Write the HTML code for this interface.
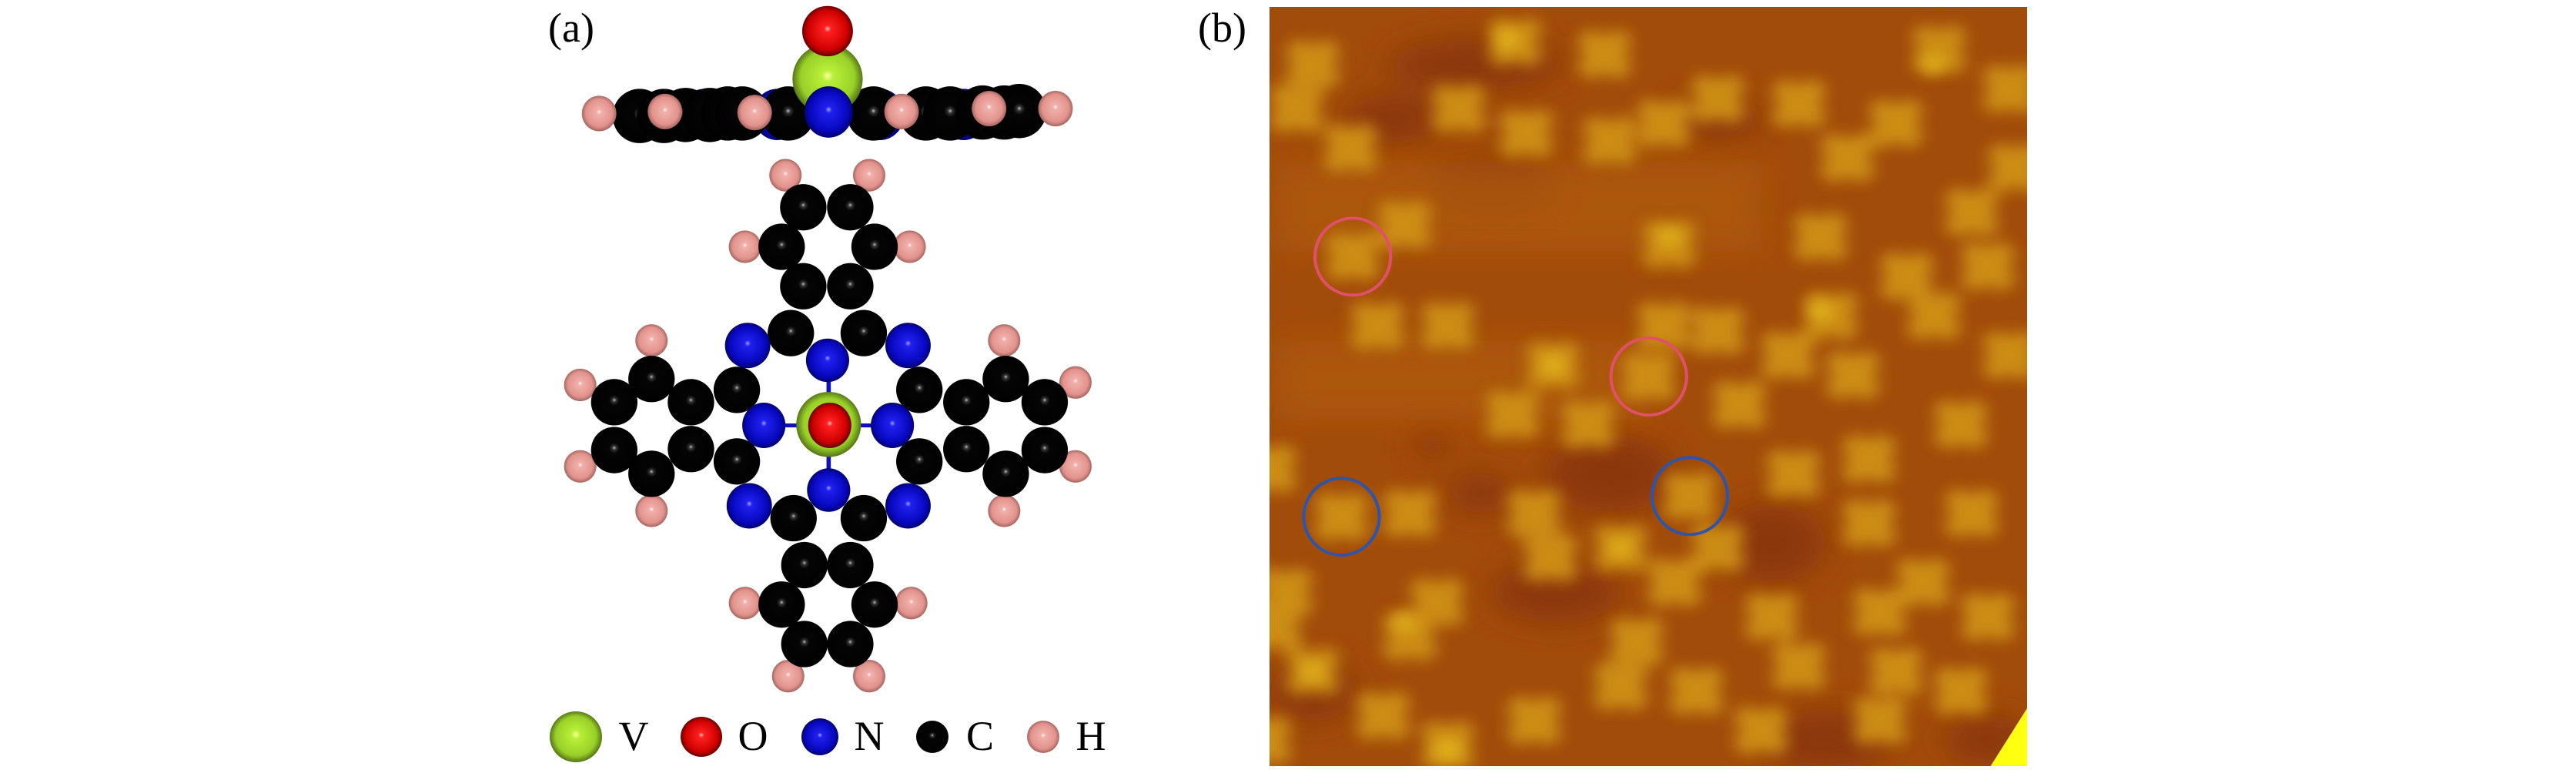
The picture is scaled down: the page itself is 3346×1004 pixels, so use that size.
<!DOCTYPE html>
<html><head><meta charset="utf-8"><style>
html,body{margin:0;padding:0;background:#fff;}
svg{display:block;}
text{font-family:"Liberation Serif",serif;fill:#000;}
</style></head><body>
<svg width="3346" height="1004" viewBox="0 0 3346 1004" xmlns="http://www.w3.org/2000/svg">
<defs>
<radialGradient id="gC" cx="0.5" cy="0.5" r="0.55" fx="0.5" fy="0.45"><stop offset="0" stop-color="#bbb"/><stop offset="0.08" stop-color="#333"/><stop offset="0.2" stop-color="#050505"/><stop offset="1" stop-color="#000"/></radialGradient>
<radialGradient id="gH" cx="0.5" cy="0.5" r="0.55" fx="0.5" fy="0.45"><stop offset="0" stop-color="#fff"/><stop offset="0.12" stop-color="#f2b0ab"/><stop offset="0.7" stop-color="#e2928c"/><stop offset="1" stop-color="#8a5550"/></radialGradient>
<radialGradient id="gN" cx="0.5" cy="0.5" r="0.55" fx="0.5" fy="0.45"><stop offset="0" stop-color="#a0a0ff"/><stop offset="0.12" stop-color="#2020f0"/><stop offset="0.7" stop-color="#0808c0"/><stop offset="1" stop-color="#000050"/></radialGradient>
<radialGradient id="gO" cx="0.5" cy="0.5" r="0.55" fx="0.5" fy="0.45"><stop offset="0" stop-color="#ffc0c0"/><stop offset="0.12" stop-color="#ff2020"/><stop offset="0.7" stop-color="#d00000"/><stop offset="1" stop-color="#400000"/></radialGradient>
<radialGradient id="gV" cx="0.5" cy="0.5" r="0.55" fx="0.5" fy="0.45"><stop offset="0" stop-color="#ffffa0"/><stop offset="0.15" stop-color="#b8f038"/><stop offset="0.7" stop-color="#98d028"/><stop offset="1" stop-color="#3a5010"/></radialGradient>
<filter id="bl" x="-50%" y="-50%" width="200%" height="200%"><feGaussianBlur stdDeviation="15"/></filter>
<filter id="bl2" x="-50%" y="-50%" width="200%" height="200%"><feGaussianBlur stdDeviation="30"/></filter>
<g id="cl"><circle cx="-24" cy="-24" r="25"/><circle cx="24" cy="-24" r="25"/><circle cx="-24" cy="24" r="25"/><circle cx="24" cy="24" r="25"/><circle cx="0" cy="0" r="22"/></g>
<clipPath id="clip"><rect x="1649" y="9" width="984" height="986"/></clipPath>
</defs>

<text x="712" y="54" font-size="54">(a)</text>
<text x="1556" y="54" font-size="54">(b)</text>

<g transform="translate(680,0) scale(0.7015,0.641)">
<g>
<ellipse cx="470" cy="232" rx="45" ry="52" fill="url(#gN)"/>
<ellipse cx="660" cy="232" rx="45" ry="52" fill="url(#gN)"/>
<ellipse cx="815" cy="232" rx="45" ry="52" fill="url(#gN)"/>
<ellipse cx="335" cy="232" rx="45" ry="52" fill="url(#gN)"/>
<ellipse cx="215" cy="235" rx="50" ry="55" fill="url(#gC)"/>
<ellipse cx="260" cy="235" rx="50" ry="55" fill="url(#gC)"/>
<ellipse cx="300" cy="233" rx="50" ry="55" fill="url(#gC)"/>
<ellipse cx="345" cy="233" rx="50" ry="55" fill="url(#gC)"/>
<ellipse cx="378" cy="230" rx="50" ry="55" fill="url(#gC)"/>
<ellipse cx="405" cy="230" rx="50" ry="55" fill="url(#gC)"/>
<ellipse cx="490" cy="230" rx="50" ry="55" fill="url(#gC)"/>
<ellipse cx="648" cy="230" rx="50" ry="55" fill="url(#gC)"/>
<ellipse cx="745" cy="230" rx="50" ry="55" fill="url(#gC)"/>
<ellipse cx="790" cy="230" rx="50" ry="55" fill="url(#gC)"/>
<ellipse cx="850" cy="228" rx="50" ry="55" fill="url(#gC)"/>
<ellipse cx="890" cy="228" rx="50" ry="55" fill="url(#gC)"/>
<ellipse cx="918" cy="225" rx="50" ry="55" fill="url(#gC)"/>
<ellipse cx="563" cy="160" rx="65" ry="71" fill="url(#gV)"/>
<ellipse cx="565" cy="227" rx="45" ry="52" fill="url(#gN)"/>
<ellipse cx="563" cy="63" rx="47" ry="51" fill="url(#gO)"/>
<ellipse cx="140" cy="230" rx="32" ry="36" fill="url(#gH)"/>
<ellipse cx="262" cy="226" rx="32" ry="36" fill="url(#gH)"/>
<ellipse cx="428" cy="228" rx="32" ry="36" fill="url(#gH)"/>
<ellipse cx="700" cy="226" rx="32" ry="36" fill="url(#gH)"/>
<ellipse cx="862" cy="220" rx="32" ry="36" fill="url(#gH)"/>
<ellipse cx="985" cy="220" rx="32" ry="36" fill="url(#gH)"/>
</g>
<g stroke="#1010c0" stroke-width="8">
<line x1="565" y1="735" x2="565" y2="990"/>
<line x1="445" y1="862" x2="683" y2="862"/>
</g>
<g fill="url(#gH)">
<ellipse cx="485" cy="355" rx="30" ry="33"/><ellipse cx="640" cy="355" rx="30" ry="33"/>
<ellipse cx="410" cy="500" rx="30" ry="33"/><ellipse cx="715" cy="500" rx="30" ry="33"/>
<ellipse cx="490" cy="1370" rx="30" ry="33"/><ellipse cx="640" cy="1370" rx="30" ry="33"/>
<ellipse cx="410" cy="1222" rx="30" ry="33"/><ellipse cx="718" cy="1222" rx="30" ry="33"/>
<ellipse cx="105" cy="780" rx="30" ry="33"/><ellipse cx="105" cy="945" rx="30" ry="33"/>
<ellipse cx="237" cy="690" rx="30" ry="33"/><ellipse cx="237" cy="1035" rx="30" ry="33"/>
<ellipse cx="1022" cy="775" rx="30" ry="33"/><ellipse cx="1022" cy="945" rx="30" ry="33"/>
<ellipse cx="890" cy="690" rx="30" ry="33"/><ellipse cx="890" cy="1035" rx="30" ry="33"/>
</g>
<g fill="url(#gC)">
<ellipse cx="518" cy="420" rx="43" ry="47"/><ellipse cx="605" cy="420" rx="43" ry="47"/>
<ellipse cx="478" cy="500" rx="43" ry="47"/><ellipse cx="650" cy="500" rx="43" ry="47"/>
<ellipse cx="518" cy="580" rx="43" ry="47"/><ellipse cx="605" cy="580" rx="43" ry="47"/>
<ellipse cx="495" cy="675" rx="43" ry="47"/><ellipse cx="630" cy="675" rx="43" ry="47"/>
<ellipse cx="520" cy="1305" rx="43" ry="47"/><ellipse cx="605" cy="1305" rx="43" ry="47"/>
<ellipse cx="478" cy="1225" rx="43" ry="47"/><ellipse cx="650" cy="1225" rx="43" ry="47"/>
<ellipse cx="520" cy="1145" rx="43" ry="47"/><ellipse cx="605" cy="1145" rx="43" ry="47"/>
<ellipse cx="500" cy="1050" rx="43" ry="47"/><ellipse cx="630" cy="1050" rx="43" ry="47"/>
<ellipse cx="168" cy="815" rx="43" ry="47"/><ellipse cx="168" cy="912" rx="43" ry="47"/>
<ellipse cx="237" cy="768" rx="43" ry="47"/><ellipse cx="237" cy="960" rx="43" ry="47"/>
<ellipse cx="310" cy="815" rx="43" ry="47"/><ellipse cx="310" cy="910" rx="43" ry="47"/>
<ellipse cx="395" cy="790" rx="43" ry="47"/><ellipse cx="395" cy="935" rx="43" ry="47"/>
<ellipse cx="965" cy="815" rx="43" ry="47"/><ellipse cx="965" cy="912" rx="43" ry="47"/>
<ellipse cx="893" cy="768" rx="43" ry="47"/><ellipse cx="893" cy="960" rx="43" ry="47"/>
<ellipse cx="820" cy="815" rx="43" ry="47"/><ellipse cx="820" cy="910" rx="43" ry="47"/>
<ellipse cx="733" cy="790" rx="43" ry="47"/><ellipse cx="733" cy="935" rx="43" ry="47"/>
</g>
<g fill="url(#gN)">
<ellipse cx="415" cy="700" rx="42" ry="46"/><ellipse cx="712" cy="700" rx="42" ry="46"/>
<ellipse cx="418" cy="1025" rx="42" ry="46"/><ellipse cx="712" cy="1025" rx="42" ry="46"/>
<ellipse cx="563" cy="730" rx="40" ry="44"/><ellipse cx="445" cy="862" rx="40" ry="46"/>
<ellipse cx="683" cy="862" rx="40" ry="46"/><ellipse cx="565" cy="993" rx="40" ry="44"/>
</g>
<ellipse cx="565" cy="860" rx="60" ry="66" fill="url(#gV)"/>
<ellipse cx="567" cy="862" rx="40" ry="46" fill="url(#gO)"/>
</g>

<ellipse cx="748" cy="957" rx="34" ry="33" fill="url(#gV)"/>
<ellipse cx="911" cy="957" rx="27" ry="26" fill="url(#gO)"/>
<ellipse cx="1065" cy="957" rx="24" ry="24" fill="url(#gN)"/>
<ellipse cx="1211" cy="957" rx="21" ry="21" fill="url(#gC)"/>
<ellipse cx="1355" cy="957" rx="21" ry="21" fill="url(#gH)"/>
<g font-size="54" text-anchor="middle">
<text x="823" y="974">V</text>
<text x="978" y="974">O</text>
<text x="1129" y="974">N</text>
<text x="1273" y="974">C</text>
<text x="1417" y="974">H</text>
</g>

<g clip-path="url(#clip)">
<rect x="1649" y="9" width="984" height="986" fill="#a24c0b"/>
<g transform="translate(1600,0) scale(0.7015,0.641)">
<g fill="#86300a" filter="url(#bl2)" opacity="0.8">
<ellipse cx="300" cy="240" rx="90" ry="50"/>
<ellipse cx="450" cy="130" rx="160" ry="50"/>
<ellipse cx="480" cy="380" rx="120" ry="60"/>
<ellipse cx="900" cy="240" rx="80" ry="40"/>
<ellipse cx="460" cy="1000" rx="60" ry="40"/>
<ellipse cx="700" cy="960" rx="120" ry="80"/>
<ellipse cx="1100" cy="1500" rx="120" ry="60"/>
<ellipse cx="370" cy="900" rx="30" ry="30"/>
<ellipse cx="1000" cy="1100" rx="100" ry="80"/>
<ellipse cx="600" cy="1200" rx="120" ry="60"/>
<ellipse cx="1400" cy="1500" rx="80" ry="50"/>
<ellipse cx="150" cy="1400" rx="80" ry="60"/>
</g>
<g fill="#ae5a10" filter="url(#bl2)" opacity="0.8">
<rect x="80" y="330" width="900" height="180"/>
<rect x="80" y="690" width="700" height="160"/>
</g>
<g fill="#cf9218" filter="url(#bl)" opacity="0.95">
<use href="#cl" x="150" y="130"/><use href="#cl" x="120" y="220"/><use href="#cl" x="220" y="300"/>
<use href="#cl" x="525" y="85"/><use href="#cl" x="690" y="110"/><use href="#cl" x="420" y="220"/>
<use href="#cl" x="545" y="270"/><use href="#cl" x="700" y="285"/><use href="#cl" x="800" y="250"/>
<use href="#cl" x="900" y="200"/><use href="#cl" x="1050" y="210"/><use href="#cl" x="1230" y="250"/>
<use href="#cl" x="1140" y="320"/><use href="#cl" x="1310" y="100"/><use href="#cl" x="320" y="455"/>
<use href="#cl" x="224" y="520"/><use href="#cl" x="270" y="660"/><use href="#cl" x="400" y="660"/>
<use href="#cl" x="810" y="495"/><use href="#cl" x="800" y="660"/><use href="#cl" x="900" y="670"/>
<use href="#cl" x="1090" y="480"/><use href="#cl" x="1110" y="640"/><use href="#cl" x="1250" y="560"/>
<use href="#cl" x="1370" y="430"/><use href="#cl" x="1400" y="540"/><use href="#cl" x="1440" y="720"/>
<use href="#cl" x="595" y="740"/><use href="#cl" x="520" y="840"/><use href="#cl" x="660" y="860"/>
<use href="#cl" x="772" y="763"/><use href="#cl" x="1030" y="720"/><use href="#cl" x="940" y="820"/>
<use href="#cl" x="1040" y="960"/><use href="#cl" x="1180" y="930"/><use href="#cl" x="1370" y="1040"/>
<use href="#cl" x="203" y="1047"/><use href="#cl" x="330" y="1040"/><use href="#cl" x="560" y="1040"/>
<use href="#cl" x="590" y="1130"/><use href="#cl" x="720" y="1110"/><use href="#cl" x="848" y="1005"/>
<use href="#cl" x="900" y="1110"/><use href="#cl" x="820" y="1180"/><use href="#cl" x="100" y="1200"/>
<use href="#cl" x="380" y="1220"/><use href="#cl" x="330" y="1290"/><use href="#cl" x="150" y="1360"/>
<use href="#cl" x="280" y="1450"/><use href="#cl" x="400" y="1510"/><use href="#cl" x="560" y="1460"/>
<use href="#cl" x="720" y="1390"/><use href="#cl" x="750" y="1300"/><use href="#cl" x="860" y="1400"/>
<use href="#cl" x="1000" y="1250"/><use href="#cl" x="1050" y="1350"/><use href="#cl" x="1200" y="1240"/>
<use href="#cl" x="1230" y="1360"/><use href="#cl" x="1280" y="1180"/><use href="#cl" x="1400" y="1250"/>
<use href="#cl" x="1350" y="1400"/><use href="#cl" x="1200" y="1460"/><use href="#cl" x="980" y="1480"/>
<use href="#cl" x="70" y="950"/><use href="#cl" x="80" y="1270"/><use href="#cl" x="1440" y="180"/>
<use href="#cl" x="1450" y="340"/><use href="#cl" x="1180" y="1060"/><use href="#cl" x="60" y="1500"/>
<use href="#cl" x="1300" y="640"/><use href="#cl" x="1150" y="760"/><use href="#cl" x="1350" y="860"/>
</g>
<g fill="#e2b41a" filter="url(#bl)">
<circle cx="510" cy="80" r="22"/><circle cx="810" cy="480" r="20"/><circle cx="595" cy="740" r="22"/>
<circle cx="1090" cy="630" r="22"/><circle cx="400" cy="1520" r="24"/><circle cx="1300" cy="130" r="20"/>
<circle cx="720" cy="1110" r="20"/><circle cx="320" cy="1260" r="20"/><circle cx="150" cy="1360" r="20"/>
</g>
<ellipse cx="224" cy="520" rx="70" ry="78" fill="none" stroke="#e0506a" stroke-width="6"/>
<ellipse cx="772" cy="763" rx="70" ry="78" fill="none" stroke="#e0506a" stroke-width="6"/>
<ellipse cx="203" cy="1047" rx="70" ry="78" fill="none" stroke="#2f55a8" stroke-width="6"/>
<ellipse cx="848" cy="1005" rx="70" ry="78" fill="none" stroke="#2f55a8" stroke-width="6"/>
</g>
<polygon points="2633,920 2633,996 2585,996" fill="#ffff10"/>
</g>
</svg>
</body></html>
